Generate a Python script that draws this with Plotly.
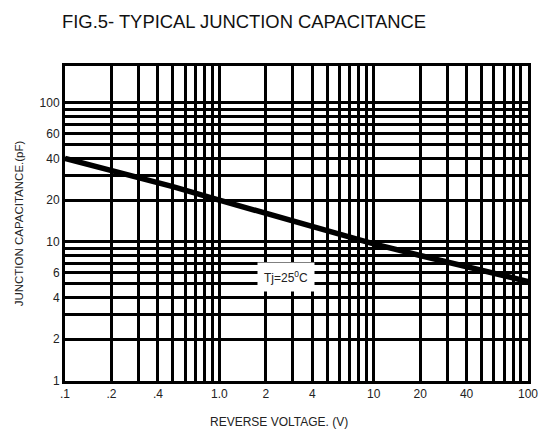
import numpy as np
import plotly.graph_objects as go

# Data
voltage = [0.1, 0.2, 0.5, 1.0, 2.0, 5.0, 10.0, 20.0, 50.0, 100.0]
capacitance = [40, 33, 25, 20, 16, 12, 9.7, 8.0, 6.2, 5.2]

x_grid = [m * 10.0 ** e for e in (-1, 0, 1) for m in range(1, 10)] + [100]
x_labels = {0.1: ".1", 0.2: ".2", 0.4: ".4", 1.0: "1.0", 2.0: "2", 4.0: "4",
            10.0: "10", 20.0: "20", 40.0: "40", 100.0: "100"}
y_grid = [m * 10.0 ** e for e in (0, 1) for m in range(1, 10)] + [100]
y_labels = {1.0: "1", 2.0: "2", 4.0: "4", 6.0: "6", 10.0: "10", 20.0: "20",
            40.0: "40", 60.0: "60", 100.0: "100"}

def label_for(v, labels):
    for k, t in labels.items():
        if abs(v - k) < 1e-9 * max(1, k):
            return t
    return ""

x_text = [label_for(v, x_labels) for v in x_grid]
y_text = [label_for(v, y_labels) for v in y_grid]

fig = go.Figure()
fig.add_trace(go.Scatter(x=voltage, y=capacitance, mode="lines",
                         line=dict(color="black", width=5.5), showlegend=False,
                         hoverinfo="skip"))

font = "Liberation Sans, Arial, sans-serif"
W, H = 541, 434
fig.update_layout(
    width=W, height=H,
    margin=dict(l=65, r=13, t=66, b=53),
    paper_bgcolor="white", plot_bgcolor="white",
    font=dict(family=font, color="black", size=12),
    title=dict(text="FIG.5- TYPICAL JUNCTION CAPACITANCE", x=62 / W, xanchor="left",
               y=1 - 22 / H, yanchor="middle", font=dict(size=18.4, family=font, color="#111")),
    xaxis=dict(type="log", range=[-1, 2], tickmode="array", tickvals=x_grid, ticktext=x_text,
               showgrid=True, gridcolor="black", gridwidth=2.5, ticks="", zeroline=False,
               showline=True, linecolor="black", linewidth=3, mirror=True, automargin=False,
               tickfont=dict(size=12, family=font, color="#222")),
    yaxis=dict(type="log", range=[0, 2.266], tickmode="array", tickvals=y_grid, ticktext=y_text,
               showgrid=True, gridcolor="black", gridwidth=2.5, ticks="", zeroline=False,
               showline=True, linecolor="black", linewidth=3, mirror=True, automargin=False,
               tickfont=dict(size=12, family=font, color="#222"),
               title=dict(text="JUNCTION CAPACITANCE.(pF)", standoff=14,
                          font=dict(size=11.5, family=font, color="#222"))),
    annotations=[
        dict(text="Tj=25<sup>0</sup>C", x=np.log10(2.7), y=np.log10(5.6), xref="x", yref="y",
             showarrow=False, bgcolor="white", borderpad=6,
             font=dict(size=12, family=font, color="#222")),
        dict(text="REVERSE VOLTAGE. (V)", x=(279 - 65) / 463, y=-(422 - 381) / 315,
             xref="paper", yref="paper", showarrow=False, xanchor="center", yanchor="middle",
             font=dict(size=12, family=font, color="#222")),
    ],
)

fig.write_html(
    "out.html",
    config={"displayModeBar": False},
    post_script="document.body.style.margin='0';document.documentElement.style.overflow='hidden';",
)
